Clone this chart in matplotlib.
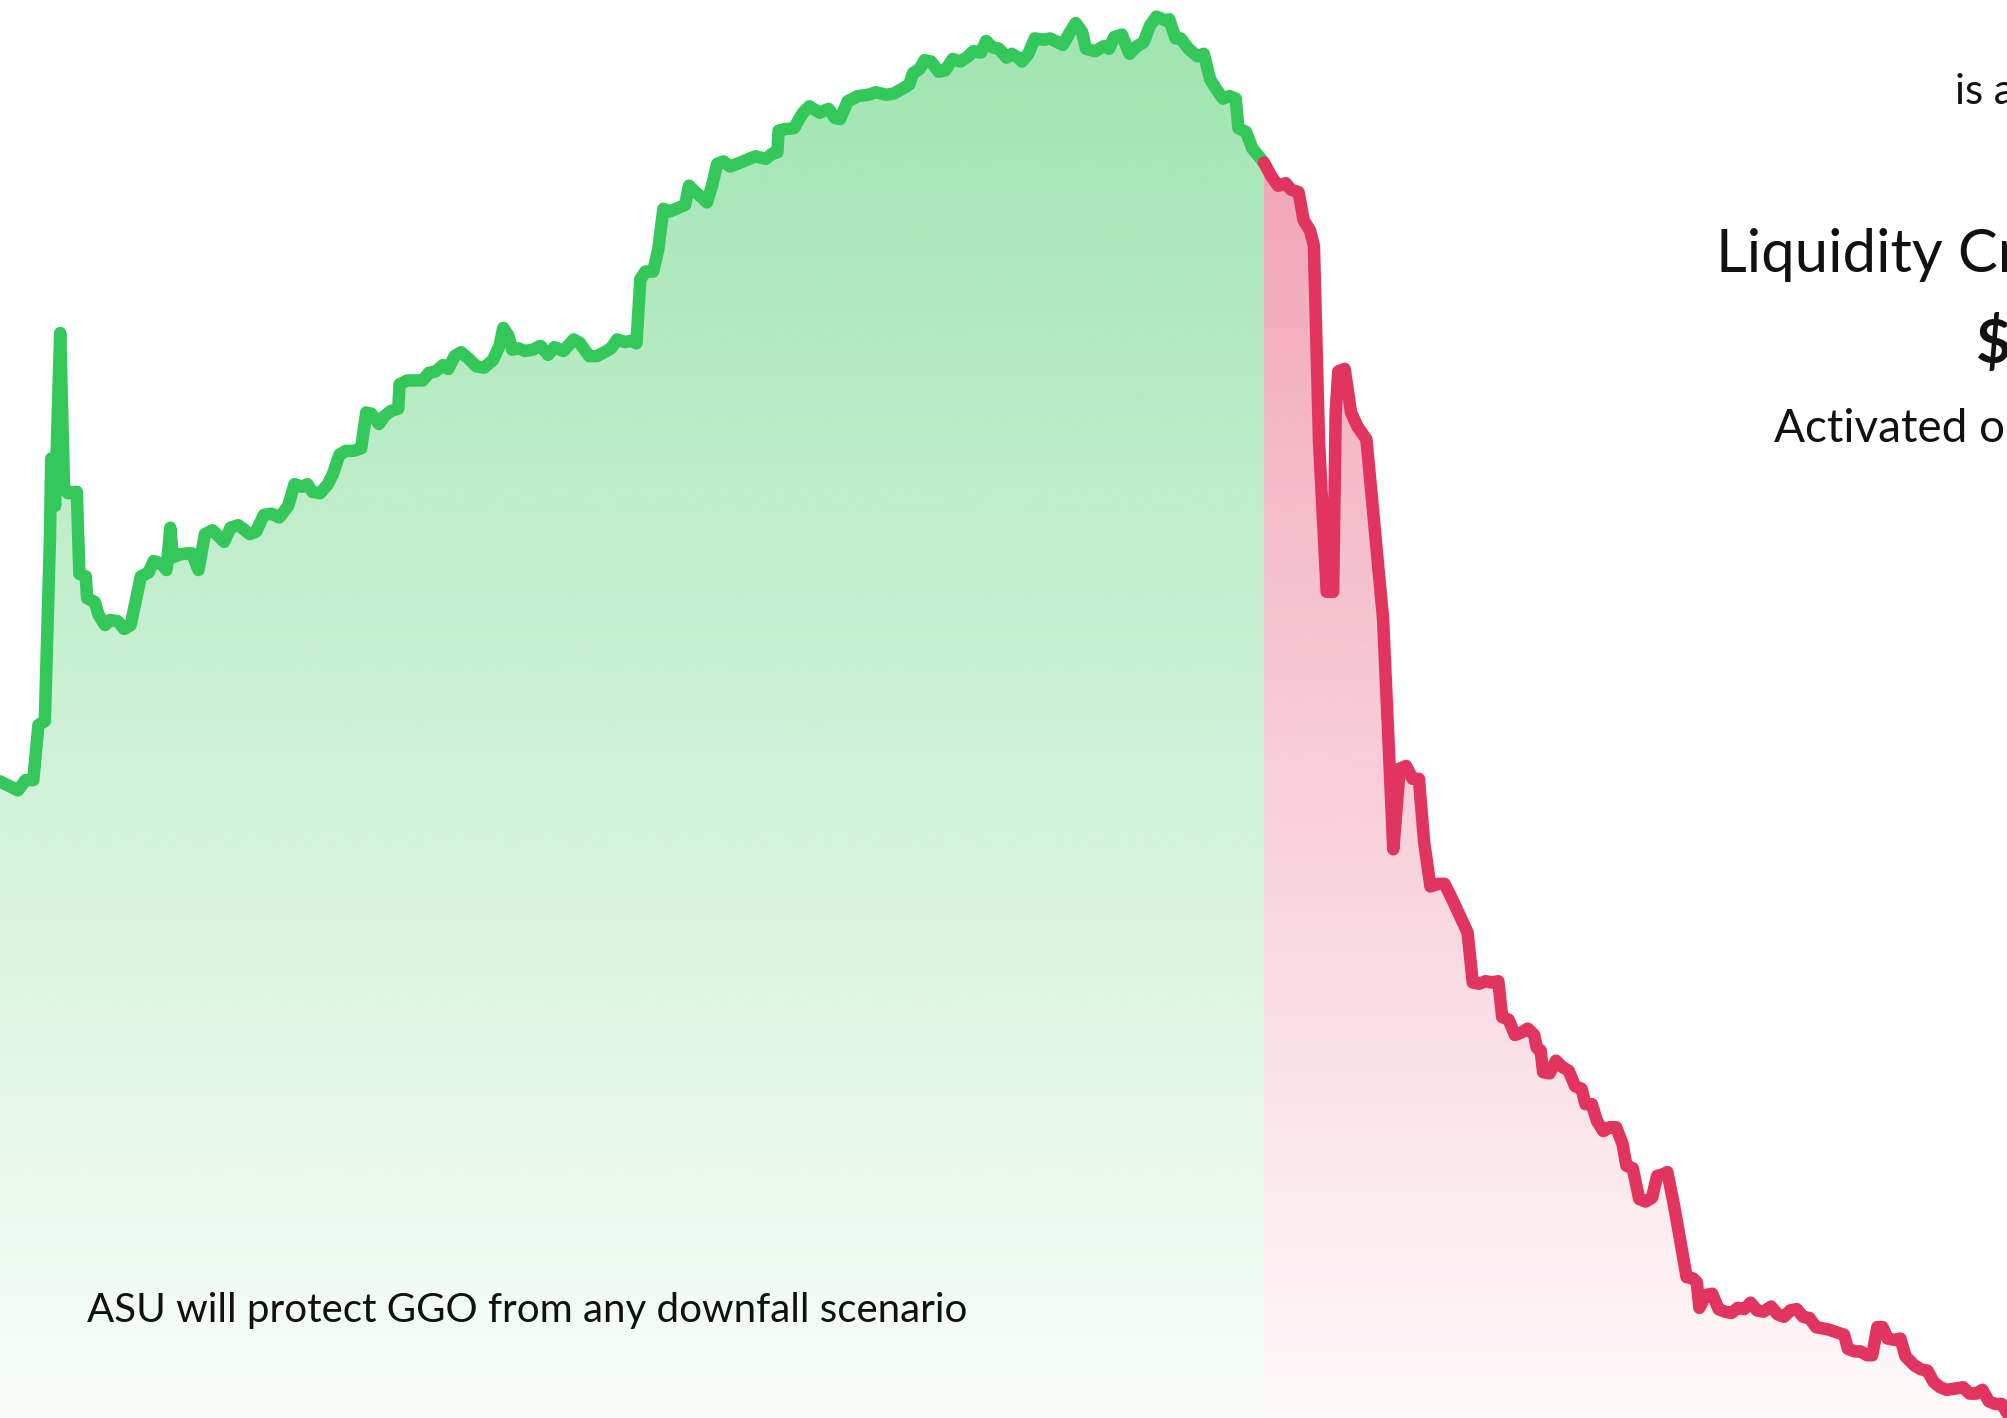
#!/usr/bin/env python3
# Price run-up (green) followed by the crash (red), gradient area fills, no axes.

import numpy as np
import matplotlib
matplotlib.use("Agg")
import matplotlib.pyplot as plt
from matplotlib.colors import to_rgb

# canvas units: x = time step, y = price level (chart is drawn edge to edge)
CANVAS_W = 1568
CANVAS_H = 1107

GREEN_X = [0, 8, 14, 20, 26, 30, 35, 39, 40, 43, 47, 50, 53, 60, 62, 67, 68, 74, 77, 82,
           86, 92, 97, 102, 110, 116, 120, 126, 130, 133, 135, 140, 146, 150, 155, 160, 166, 170, 175, 180,
           186, 190, 195, 200, 206, 212, 218, 225, 230, 236, 240, 244, 250, 256, 260, 265, 270, 276, 282, 286,
           290, 296, 300, 305, 311, 312, 318, 323, 330, 335, 340, 346, 350, 355, 360, 366, 372, 378, 385, 390,
           393, 397, 400, 405, 410, 416, 422, 428, 433, 440, 448, 453, 460, 466, 472, 477, 482, 488, 493, 497,
           500, 504, 510, 514, 518, 523, 528, 535, 538, 543, 548, 552, 556, 560, 565, 570, 578, 585, 590, 598,
           603, 607, 608, 612, 620, 627, 632, 640, 647, 652, 656, 662, 670, 678, 684, 692, 698, 705, 710, 713,
           718, 722, 727, 733, 738, 744, 750, 756, 760, 766, 770, 775, 780, 786, 790, 795, 798, 803, 808, 815,
           820, 826, 830, 835, 840, 845, 848, 855, 862, 866, 870, 876, 882, 888, 893, 898, 903, 910, 913, 918,
           922, 928, 935, 940, 945, 950, 955, 960, 965, 967, 973, 978, 983, 987]
GREEN_Y = [497, 493, 490, 498, 498, 541, 544, 687, 749, 712, 847, 727, 722, 723, 659, 657, 640, 637, 627, 619,
           623, 622, 616, 619, 657, 660, 669, 667, 662, 695, 672, 674, 675, 675, 662, 690, 693, 689, 684, 695,
           697, 694, 690, 692, 705, 706, 703, 712, 729, 727, 729, 723, 722, 729, 737, 752, 755, 755, 757, 785,
           784, 776, 782, 786, 788, 807, 810, 810, 810, 816, 817, 822, 819, 829, 832, 827, 821, 820, 826, 837,
           851, 845, 834, 835, 833, 834, 837, 830, 836, 833, 842, 839, 829, 829, 832, 835, 842, 840, 841, 839,
           889, 895, 895, 912, 944, 942, 944, 947, 962, 957, 953, 949, 962, 979, 981, 977, 980, 983, 985, 983,
           987, 988, 1005, 1006, 1007, 1019, 1024, 1019, 1022, 1015, 1014, 1028, 1032, 1033, 1035, 1033, 1034, 1038, 1041, 1050,
           1053, 1060, 1059, 1051, 1052, 1061, 1059, 1063, 1067, 1066, 1075, 1070, 1069, 1062, 1065, 1062, 1059, 1065, 1077, 1076,
           1077, 1074, 1072, 1081, 1089, 1082, 1069, 1067, 1071, 1069, 1078, 1080, 1065, 1071, 1074, 1087, 1094, 1091, 1092, 1077,
           1077, 1069, 1063, 1065, 1045, 1037, 1030, 1032, 1030, 1007, 1004, 991, 985, 980]

RED_X = [987, 993, 998, 1004, 1008, 1014, 1018, 1023, 1026, 1030, 1036, 1041, 1043, 1045, 1050, 1055, 1060, 1067, 1080, 1088,
         1093, 1098, 1103, 1108, 1112, 1117, 1123, 1128, 1133, 1140, 1146, 1150, 1155, 1160, 1165, 1170, 1173, 1178, 1183, 1188,
         1193, 1198, 1200, 1203, 1205, 1210, 1215, 1220, 1225, 1230, 1235, 1238, 1243, 1247, 1252, 1257, 1262, 1267, 1270, 1275,
         1280, 1285, 1290, 1294, 1298, 1302, 1307, 1312, 1317, 1322, 1325, 1327, 1332, 1337, 1342, 1347, 1352, 1357, 1362, 1367,
         1372, 1377, 1383, 1388, 1393, 1398, 1403, 1408, 1413, 1418, 1423, 1428, 1434, 1440, 1443, 1448, 1453, 1458, 1462, 1466,
         1470, 1474, 1479, 1484, 1488, 1495, 1500, 1505, 1510, 1515, 1520, 1527, 1533, 1538, 1543, 1548, 1553, 1558, 1563, 1568,
         1575]
RED_Y = [980, 969, 962, 964, 959, 957, 935, 927, 915, 762, 645, 645, 785, 817, 819, 785, 774, 764, 624, 444,
         507, 509, 499, 499, 450, 415, 417, 417, 407, 392, 379, 340, 339, 341, 340, 341, 313, 311, 299, 301,
         304, 299, 289, 287, 270, 269, 279, 274, 271, 259, 257, 245, 245, 232, 224, 227, 227, 214, 197, 195,
         171, 169, 172, 189, 190, 192, 167, 139, 110, 109, 106, 86, 96, 97, 85, 83, 82, 86, 85, 90,
         84, 83, 87, 81, 79, 84, 85, 79, 78, 71, 70, 69, 67, 65, 54, 52, 52, 49, 49, 71,
         71, 62, 61, 62, 48, 41, 38, 37, 28, 24, 22, 23, 24, 19, 19, 22, 13, 11, 11, 3,
         -5]

GREEN = "#34c759"
RED = "#e1355f"


def gradientFill(ax, x, y, color, topAlpha, bottomAlpha):
    # area under the curve, coloured with a vertical alpha ramp
    poly = ax.fill_between(x, y, 0, facecolor='none', linewidth=0)
    ramp = np.zeros((256, 1, 4))
    ramp[..., :3] = to_rgb(color)
    ramp[..., 3] = np.linspace(bottomAlpha, topAlpha, 256).reshape(-1, 1)
    im = ax.imshow(ramp, extent=[0, CANVAS_W, 0, CANVAS_H], origin='lower',
                   aspect='auto', interpolation='bilinear', zorder=1)
    im.set_clip_path(poly.get_paths()[0], transform=ax.transData)


def run():
    plt.rcParams['font.family'] = ['Lato', 'DejaVu Sans']
    fig = plt.figure(figsize=(20.08, 14.18), dpi=100)
    ax = fig.add_axes([0, 0, 1, 1])
    ax.set_axis_off()

    gradientFill(ax, GREEN_X, GREEN_Y, GREEN, 0.48, 0.03)
    gradientFill(ax, RED_X, RED_Y, RED, 0.50, 0.03)

    lineKw = dict(linewidth=9, solid_capstyle='round', solid_joinstyle='round', zorder=3)
    ax.plot(GREEN_X, GREEN_Y, color=GREEN, **lineKw)
    ax.plot(RED_X, RED_Y, color=RED, **lineKw)

    ax.set_xlim(0, CANVAS_W)
    ax.set_ylim(0, CANVAS_H)

    ax.text(68, 75, "ASU will protect GGO from any downfall scenario",
            fontsize=29, color='#111111', va='baseline', ha='left', zorder=4)

    # side panel, cut off by the right edge
    ax.text(1527, 1026, "is activated", fontsize=30, color='#111111', va='baseline', ha='left')
    ax.text(1340, 895, "Liquidity Crisis", fontsize=43, color='#111111', va='baseline', ha='left')
    ax.text(1543, 824, "$0", fontsize=44, fontweight='bold', color='#111111', va='baseline', ha='left')
    ax.text(1385, 762, "Activated on", fontsize=33, color='#111111', va='baseline', ha='left')

    fig.savefig("out.png", dpi=100)


if __name__ == '__main__':
    run()
